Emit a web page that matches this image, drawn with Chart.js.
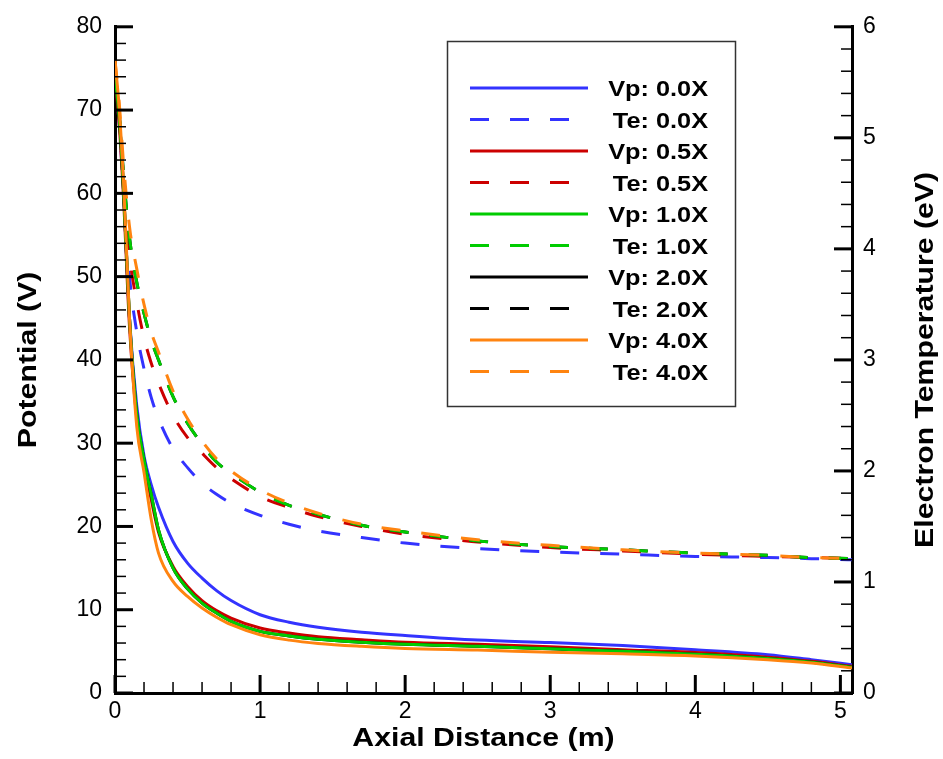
<!DOCTYPE html>
<html>
<head>
<meta charset="utf-8">
<script src="https://cdn.jsdelivr.net/npm/chart.js@4.4.1/dist/chart.umd.min.js"></script>
<style>
  html, body { margin: 0; padding: 0; background: #fff; }
  #wrap { width: 943px; height: 759px; }
</style>
</head>
<body>
<div id="wrap"><canvas id="chart" width="943" height="759"></canvas></div>
<script>
// axial distance (m), shared by every curve
const distance = [0, 0.03, 0.06, 0.1, 0.15, 0.2, 0.25, 0.3, 0.4, 0.5, 0.6, 0.7, 0.8, 1.0, 1.2, 1.4, 1.7, 2.0, 2.5, 3.0, 3.5, 4.0, 4.5, 4.8, 5.08];

// plasma potential (V)
const vp00 = [75, 69, 60, 45, 34.5, 28.5, 25, 22.3, 18.2, 15.6, 13.8, 12.3, 11.1, 9.4, 8.5, 7.9, 7.3, 6.9, 6.35, 6.05, 5.7, 5.2, 4.6, 4.0, 3.4];
const vp05 = [74, 68, 59, 44, 33, 27.5, 23.2, 19.3, 15.2, 12.8, 11.1, 9.9, 9.0, 7.8, 7.2, 6.75, 6.4, 6.1, 5.85, 5.55, 5.2, 4.85, 4.3, 3.8, 3.2];
const vp10 = [74, 69, 60, 45, 33.5, 28, 23.8, 19.6, 15.0, 12.5, 10.8, 9.6, 8.6, 7.4, 6.85, 6.45, 6.1, 5.85, 5.6, 5.3, 5.0, 4.65, 4.15, 3.7, 3.1];
const vp20 = [74, 69, 60, 45, 33.5, 28, 23.8, 19.6, 15.0, 12.5, 10.8, 9.6, 8.6, 7.4, 6.85, 6.45, 6.1, 5.85, 5.6, 5.3, 5.0, 4.65, 4.15, 3.7, 3.1];
const vp40 = [76, 70, 61, 45, 32, 26.5, 20.8, 16.8, 13.4, 11.6, 10.2, 9.1, 8.2, 7.0, 6.35, 5.95, 5.6, 5.35, 5.15, 4.9, 4.7, 4.45, 4.0, 3.6, 3.0];

// electron temperature (eV)
const te00 = [5.6, 5.1, 4.5, 3.75, 3.25, 2.92, 2.66, 2.47, 2.2, 2.03, 1.89, 1.79, 1.71, 1.60, 1.52, 1.46, 1.40, 1.35, 1.30, 1.27, 1.25, 1.23, 1.22, 1.21, 1.20];
const te05 = [5.6, 5.2, 4.6, 3.95, 3.52, 3.2, 2.97, 2.79, 2.5, 2.3, 2.16, 2.03, 1.93, 1.77, 1.67, 1.59, 1.50, 1.43, 1.36, 1.31, 1.28, 1.25, 1.23, 1.22, 1.21];
const te10 = [5.6, 5.2, 4.65, 4.1, 3.7, 3.42, 3.18, 3.0, 2.67, 2.43, 2.24, 2.08, 1.98, 1.81, 1.69, 1.61, 1.51, 1.45, 1.37, 1.32, 1.29, 1.26, 1.24, 1.22, 1.21];
const te20 = [5.6, 5.2, 4.65, 4.1, 3.7, 3.42, 3.18, 3.0, 2.67, 2.43, 2.24, 2.08, 1.98, 1.81, 1.69, 1.61, 1.51, 1.45, 1.37, 1.32, 1.29, 1.26, 1.24, 1.22, 1.21];
const te40 = [5.7, 5.3, 4.75, 4.2, 3.82, 3.5, 3.25, 3.07, 2.72, 2.47, 2.27, 2.11, 2.0, 1.83, 1.71, 1.62, 1.52, 1.46, 1.38, 1.33, 1.29, 1.26, 1.24, 1.22, 1.21];

const cases = ["0.0X", "0.5X", "1.0X", "2.0X", "4.0X"];
const colors = ["#3333ff", "#cc0000", "#00cc00", "#000000", "#ff8410"];
const layer = [4, 3, 1, 2, 0]; // lower = drawn on top
const vpSeries = [vp00, vp05, vp10, vp20, vp40];
const teSeries = [te00, te05, te10, te20, te40];

const TICK_FONT = "'Liberation Sans', Arial, sans-serif";
const DASH = [19, 21];

const toPoints = (ys) => distance.map((x, i) => ({ x, y: ys[i] }));

const datasets = [];
cases.forEach((c, k) => {
  datasets.push({
    label: "Vp: " + c,
    data: toPoints(vpSeries[k]),
    yAxisID: "y",
    borderColor: colors[k],
    borderWidth: 3,
    pointRadius: 0,
    cubicInterpolationMode: "monotone",
    order: layer[k],
  });
  datasets.push({
    label: "Te: " + c,
    data: toPoints(teSeries[k]),
    yAxisID: "y2",
    borderColor: colors[k],
    borderWidth: 3,
    borderDash: DASH,
    pointRadius: 0,
    cubicInterpolationMode: "monotone",
    order: layer[k],
  });
});

// inward major/minor tick marks
function tickMarks(ctx, scale, area, major, minor, side) {
  const n = Math.round((scale.max - scale.min) / minor + 1e-6);
  const every = Math.round(major / minor);
  for (let i = 0; i <= n; i++) {
    const v = scale.min + i * minor;
    if (v > scale.max + 1e-9) break;
    const isMajor = i % every === 0;
    const len = isMajor ? 18 : 11;
    ctx.lineWidth = isMajor ? 3 : 1.5;
    const p = scale.getPixelForValue(v);
    ctx.beginPath();
    if (side === "bottom") {
      ctx.moveTo(p, area.bottom);
      ctx.lineTo(p, area.bottom - len);
    } else if (side === "left") {
      ctx.moveTo(area.left, p);
      ctx.lineTo(area.left + len, p);
    } else {
      ctx.moveTo(area.right, p);
      ctx.lineTo(area.right - len, p);
    }
    ctx.stroke();
  }
}

function stretchedText(ctx, text, x, y, rot, sx, font, align) {
  ctx.save();
  ctx.translate(x, y);
  ctx.rotate(rot);
  ctx.scale(sx, 1);
  ctx.font = font;
  ctx.textAlign = align;
  ctx.textBaseline = "alphabetic";
  ctx.fillStyle = "#000";
  ctx.fillText(text, 0, 0);
  ctx.restore();
}

const decorations = {
  id: "decorations",
  afterDraw(chart) {
    const ctx = chart.ctx;
    const area = chart.chartArea;
    const { x, y, y2 } = chart.scales;
    ctx.save();
    ctx.strokeStyle = "#000";
    ctx.lineCap = "butt";
    tickMarks(ctx, x, area, 1, 0.2, "bottom");
    tickMarks(ctx, y, area, 10, 2, "left");
    tickMarks(ctx, y2, area, 1, 0.2, "right");

    // axis titles
    const titleFont = "bold 25px " + TICK_FONT;
    const midY = (area.top + area.bottom) / 2;
    stretchedText(ctx, "Axial Distance (m)", (area.left + area.right) / 2, 746, 0, 1.21, titleFont, "center");
    stretchedText(ctx, "Potential (V)", 36, midY, -Math.PI / 2, 1.21, titleFont, "center");
    stretchedText(ctx, "Electron Temperature (eV)", 933, midY, -Math.PI / 2, 1.21, titleFont, "center");

    // legend
    ctx.lineWidth = 1.5;
    ctx.strokeStyle = "#333";
    ctx.strokeRect(447.5, 41.5, 288, 365);
    chart.data.datasets.forEach((ds, i) => {
      const ly = 88 + i * 31.5;
      ctx.beginPath();
      ctx.strokeStyle = ds.borderColor;
      ctx.lineWidth = 3;
      ctx.setLineDash(ds.borderDash || []);
      ctx.moveTo(470, ly);
      ctx.lineTo(ds.borderDash ? 569 : 588, ly);
      ctx.stroke();
      ctx.setLineDash([]);
      stretchedText(ctx, ds.label, 708, ly + 8, 0, 1.15, "bold 22px " + TICK_FONT, "right");
    });
    ctx.restore();
  },
};

const tickFont = { family: TICK_FONT, size: 23 };

new Chart(document.getElementById("chart"), {
  type: "line",
  data: { datasets },
  options: {
    responsive: false,
    animation: false,
    layout: { padding: { top: 19, left: 0, right: 0, bottom: 0 } },
    plugins: { legend: { display: false }, tooltip: { enabled: false } },
    scales: {
      x: {
        type: "linear",
        min: 0,
        max: 5.08,
        ticks: { stepSize: 1, includeBounds: false, font: tickFont, color: "#000", padding: 5, maxRotation: 0 },
        grid: { display: false, drawTicks: false },
        border: { display: true, width: 3, color: "#000" },
        afterFit: (s) => { s.height = 66; },
      },
      y: {
        position: "left",
        min: 0,
        max: 80,
        ticks: { stepSize: 10, font: tickFont, color: "#000", padding: 13 },
        grid: { display: false, drawTicks: false },
        border: { display: true, width: 3, color: "#000" },
        afterFit: (s) => { s.width = 115; },
      },
      y2: {
        position: "right",
        min: 0,
        max: 6,
        ticks: { stepSize: 1, font: tickFont, color: "#000", padding: 11 },
        grid: { display: false, drawTicks: false },
        border: { display: true, width: 3, color: "#000" },
        afterFit: (s) => { s.width = 91; },
      },
    },
  },
  plugins: [decorations],
});
</script>
</body>
</html>
